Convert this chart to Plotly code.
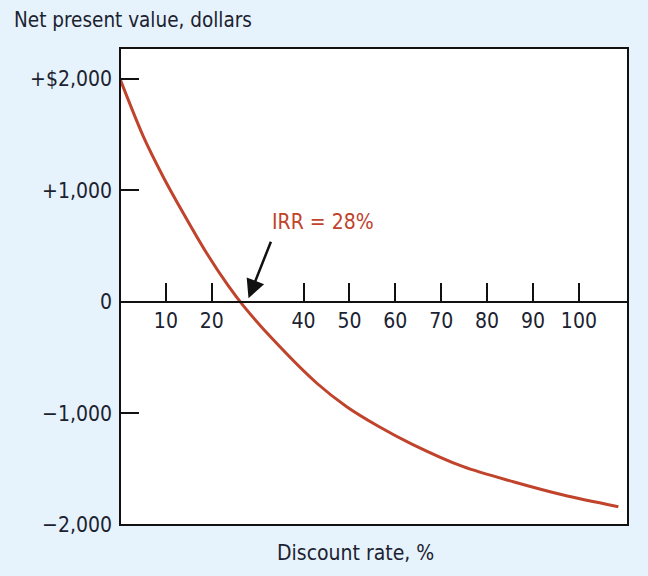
import plotly.graph_objects as go

# Data
discount_rate = [0, 5.1, 9.4, 13.8, 18.9, 23.5, 26.9, 33.1, 42.9, 49.4, 56.2, 63.6, 74.8, 85.7, 96.6, 108.6]
npv = [2000, 1482, 1123, 795, 436, 150, -35, -326, -729, -939, -1112, -1274, -1477, -1612, -1731, -1836]

x_tick_vals = [10, 20, 40, 50, 60, 70, 80, 90, 100]
x_tick_text = ["10", "20", "40", "50", "60", "70", "80", "90", "100"]
y_tick_vals = [-2000, -1000, 0, 1000, 2000]
y_tick_text = ["\u22122,000", "\u22121,000", "0", "+1,000", "+$2,000"]

irr = 28
irr_label = "IRR = 28%"
x_title = "Discount rate, %"
y_title = "Net present value, dollars"

FONT = "DejaVu Sans Condensed, Liberation Sans Narrow, sans-serif"
TXT = "#1c2230"
RED = "#c0432c"
BG = "#e6f3fc"

y_range = [-2000, 2277]
x_range = [0, 110.7]

fig = go.Figure()
fig.add_trace(go.Scatter(
    x=discount_rate, y=npv, mode="lines",
    line=dict(color=RED, width=3, shape="spline", smoothing=0.8),
    hoverinfo="skip", showlegend=False,
))

zero_pos = (0 - y_range[0]) / (y_range[1] - y_range[0])

fig.update_layout(
    width=648, height=576,
    paper_bgcolor=BG, plot_bgcolor="white",
    margin=dict(l=120, r=20, t=48, b=51),
    font=dict(family=FONT, size=21, color=TXT),
    xaxis=dict(
        range=x_range, anchor="free", position=zero_pos,
        showgrid=False, zeroline=False,
        showline=True, linecolor="#111", linewidth=2,
        ticks="inside", ticklen=18, tickwidth=2, tickcolor="#111",
        tickvals=x_tick_vals, ticktext=x_tick_text,
        tickfont=dict(family=FONT, size=21, color=TXT),
    ),
    yaxis=dict(
        range=y_range, showgrid=False, zeroline=False, showline=False,
        ticks="inside", ticklen=19, tickwidth=2, tickcolor="#111",
        tickvals=y_tick_vals, ticktext=y_tick_text,
        tickfont=dict(family=FONT, size=21, color=TXT),
        ticklabelstandoff=7,
    ),
    shapes=[dict(type="rect", xref="paper", yref="paper", x0=0, x1=1, y0=0, y1=1,
                 line=dict(color="#111", width=2), layer="above")],
    annotations=[
        dict(x=irr, y=33, xref="x", yref="y", ax=23, ay=-58, text="",
             showarrow=True, arrowhead=2, arrowsize=1.5, arrowwidth=2.5,
             arrowcolor="#111", standoff=0),
        dict(x=44.2, y=720, xref="x", yref="y", text=irr_label, showarrow=False,
             xanchor="center", yanchor="middle",
             font=dict(family=FONT, size=21, color=RED)),
        dict(x=12, y=20, xref="paper", yref="paper", text=y_title, showarrow=False,
             xanchor="left", yanchor="middle",
             font=dict(family=FONT, size=20.5, color=TXT)),
        dict(x=355, y=553, xref="paper", yref="paper", text=x_title, showarrow=False,
             xanchor="center", yanchor="middle",
             font=dict(family=FONT, size=21, color=TXT)),
    ],
)

# convert pixel-positioned annotations to paper coordinates
pw, ph = 648 - 120 - 20, 576 - 48 - 51
for a in fig.layout.annotations:
    if a.xref == "paper":
        px, py = a.x, a.y
        a.x = (px - 120) / pw
        a.y = (576 - 51 - py) / ph

fig.write_html(
    "out.html",
    config={"displayModeBar": False},
    post_script="document.body.style.margin='0px';document.body.style.background='" + BG + "';",
)
